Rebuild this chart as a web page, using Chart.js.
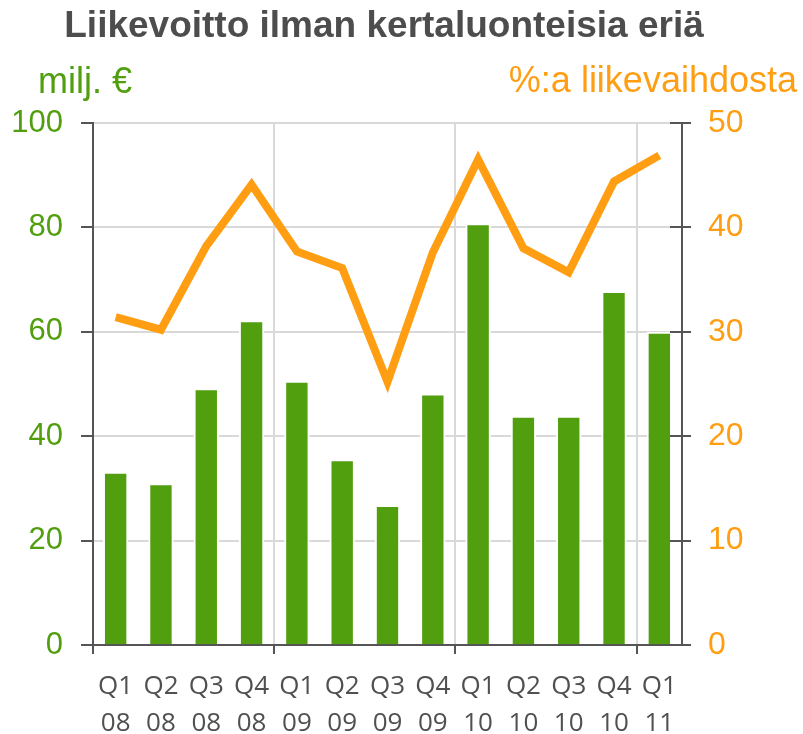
<!DOCTYPE html>
<html>
<head>
<meta charset="utf-8">
<script src="https://cdn.jsdelivr.net/npm/chart.js@4/dist/chart.umd.min.js"></script>
<style>
  html, body { margin: 0; padding: 0; background: #fff; }
  #wrap { width: 803px; height: 734px; }
</style>
</head>
<body>
<div id="wrap"><canvas id="main-chart" width="803" height="734"></canvas></div>
<script>
  // data
  const quarters = [['Q1','08'],['Q2','08'],['Q3','08'],['Q4','08'],
                    ['Q1','09'],['Q2','09'],['Q3','09'],['Q4','09'],
                    ['Q1','10'],['Q2','10'],['Q3','10'],['Q4','10'],
                    ['Q1','11']];
  const profit   = [33.2, 31, 49.2, 62.2, 50.6, 35.6, 26.8, 48.2, 80.8, 43.9, 43.9, 67.8, 60];   // milj. €
  const margin   = [31.4, 30.2, 38.2, 44.1, 37.7, 36.1, 25.2, 37.6, 46.5, 38.0, 35.7, 44.4, 46.9]; // %
  const leftTicks  = [0, 20, 40, 60, 80, 100];
  const rightTicks = [0, 10, 20, 30, 40, 50];

  const GREEN  = '#519E0E';
  const ORANGE = '#FF9E12';
  const INK    = '#505050';
  const AXIS   = '#555555';
  const GRID   = '#D9D9D9';
  const SANS   = '"Liberation Sans", Arial, sans-serif';

  // title + horizontal axis captions, and inner half of the right-hand ticks
  const decor = {
    id: 'decor',
    afterDraw(chart) {
      const c = chart.ctx;
      c.save();
      c.textBaseline = 'alphabetic';
      c.fillStyle = '#4D4D4D';
      c.font = 'bold 37px ' + SANS;
      c.textAlign = 'center';
      c.fillText('Liikevoitto ilman kertaluonteisia eriä', 384, 37);
      c.font = '36px ' + SANS;
      c.fillStyle = GREEN;
      c.textAlign = 'left';
      c.fillText('milj. €', 38, 93);
      c.fillStyle = ORANGE;
      c.textAlign = 'right';
      c.fillText('%:a liikevaihdosta', 797, 92);

      const y1 = chart.scales.y1;
      c.strokeStyle = AXIS;
      c.lineWidth = 2;
      rightTicks.forEach(v => {
        const py = Math.round(y1.getPixelForValue(v));
        c.beginPath();
        c.moveTo(y1.left - 12, py);
        c.lineTo(y1.left, py);
        c.stroke();
      });
      c.restore();
    }
  };

  new Chart(document.getElementById('main-chart').getContext('2d'), {
    data: {
      labels: quarters,
      datasets: [
        {
          type: 'line', label: '%:a liikevaihdosta', data: margin, yAxisID: 'y1',
          borderColor: ORANGE, borderWidth: 8, pointRadius: 0, tension: 0,
          borderCapStyle: 'butt', order: 0
        },
        {
          type: 'bar', label: 'milj. €', data: profit, yAxisID: 'y',
          backgroundColor: GREEN, borderColor: '#FFFFFF', borderWidth: 2,
          barPercentage: 0.56, categoryPercentage: 1, order: 1
        }
      ]
    },
    plugins: [decor],
    options: {
      responsive: false,
      animation: false,
      devicePixelRatio: 1,
      layout: { padding: { top: 123, left: 0, right: 0, bottom: 0 } },
      plugins: { legend: { display: false }, tooltip: { enabled: false }, title: { display: false } },
      scales: {
        x: {
          offset: true,
          grid: {
            offset: true, lineWidth: 2, tickLength: 9,
            color: ctx => (ctx.index % 4 === 0 ? GRID : 'rgba(0,0,0,0)'),
            tickColor: ctx => (ctx.index % 4 === 0 && ctx.index < 13 ? AXIS : 'rgba(0,0,0,0)')
          },
          border: { color: AXIS, width: 2 },
          ticks: { color: INK, font: { family: '"Open Sans", sans-serif', size: 26, lineHeight: 1.42 },
                   padding: 14, maxRotation: 0, autoSkip: false },
          afterFit: s => { s.height = 89; }
        },
        y: {
          position: 'left', min: 0, max: 100,
          afterBuildTicks: s => { s.ticks = leftTicks.map(v => ({ value: v })); },
          grid: { color: GRID, lineWidth: 2, tickColor: AXIS, tickLength: 12 },
          border: { color: AXIS, width: 2 },
          ticks: { color: GREEN, font: { family: SANS, size: 31 }, padding: 18 },
          afterFit: s => { s.width = 93; }
        },
        y1: {
          position: 'right', min: 0, max: 50,
          afterBuildTicks: s => { s.ticks = rightTicks.map(v => ({ value: v })); },
          grid: { drawOnChartArea: false, lineWidth: 2, tickColor: AXIS, tickLength: 9 },
          border: { color: AXIS, width: 2 },
          ticks: { color: ORANGE, font: { family: SANS, size: 32 }, padding: 17 },
          afterFit: s => { s.width = 121; }
        }
      }
    }
  });
</script>
</body>
</html>
